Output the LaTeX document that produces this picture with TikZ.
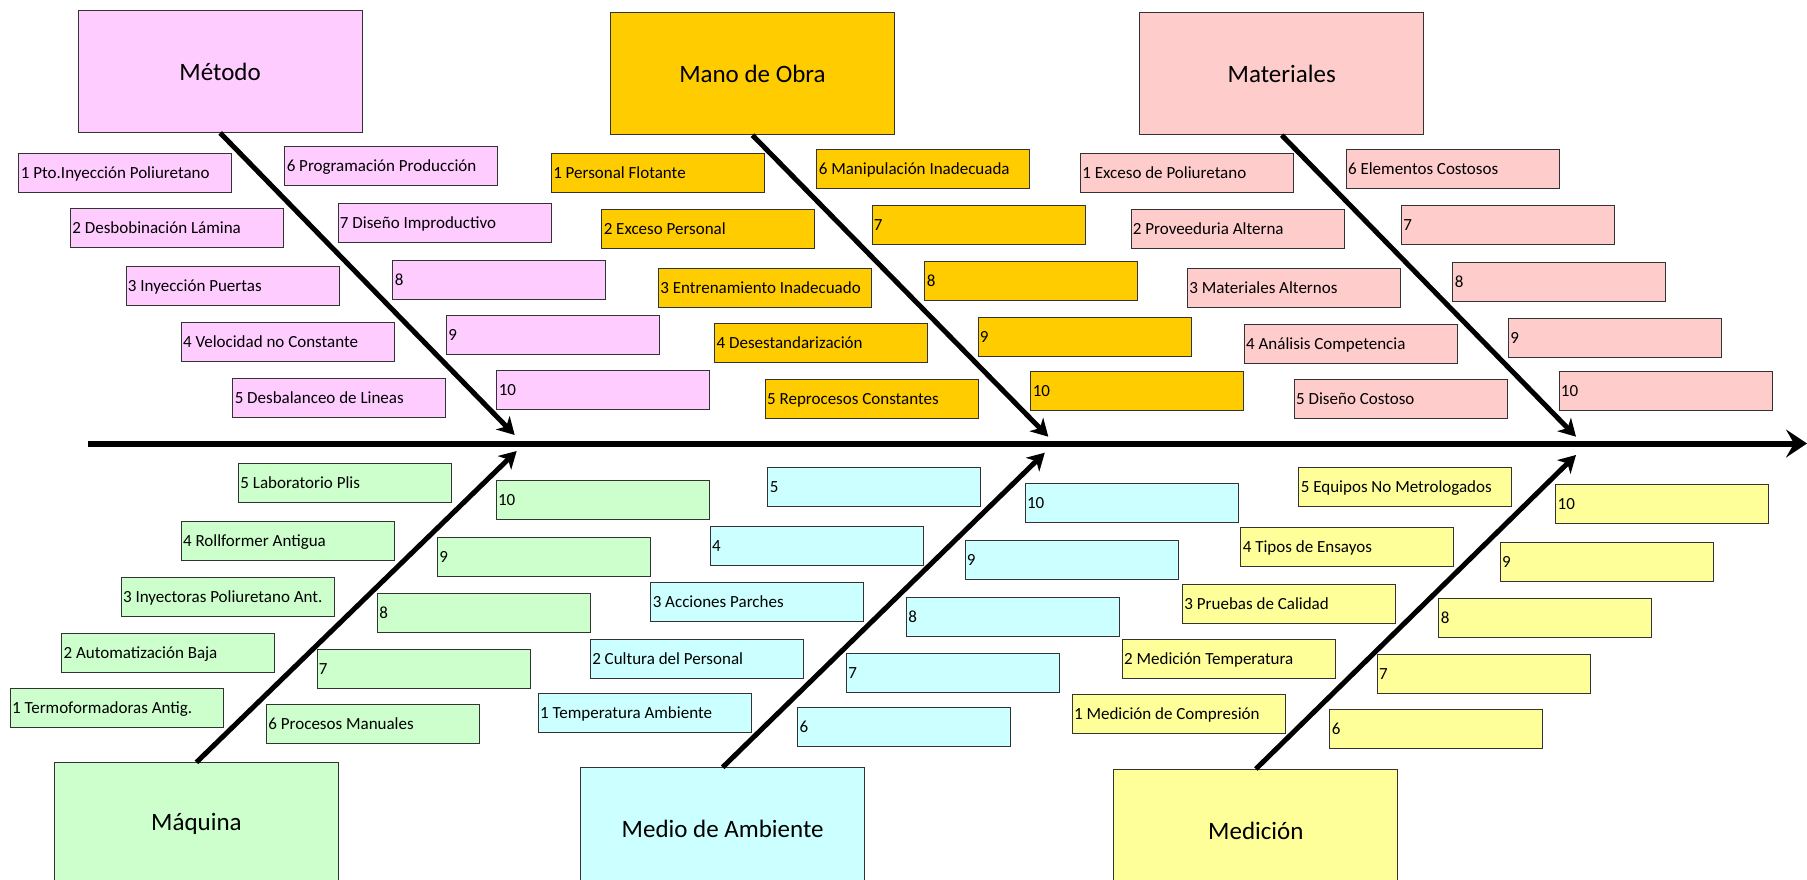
\documentclass[tikz,border=0pt]{standalone}
\usepackage{fontspec}
\setmainfont{Carlito}
\usetikzlibrary{arrows.meta}

\definecolor{metodoC}{HTML}{FFCCFF}
\definecolor{obraC}{HTML}{FFCC00}
\definecolor{materialC}{HTML}{FFCCCC}
\definecolor{maquinaC}{HTML}{CCFFCC}
\definecolor{medioC}{HTML}{CCFFFF}
\definecolor{medicionC}{HTML}{FFFF99}

\tikzset{
  cause/.style={draw=black!80, line width=0.9pt, anchor=north west,
    minimum height=39pt, minimum width=213pt, inner xsep=2pt, inner ysep=0pt,
    font=\fontsize{17}{20}\selectfont,
    text height=13pt, text depth=2pt},
  category/.style={draw=black!80, line width=0.9pt, anchor=north west,
    minimum width=284pt, minimum height=122pt,
    font=\fontsize{25}{30}\selectfont},
  bone/.style={line width=5pt, -{Stealth[length=17pt,width=19pt,inset=5pt]}},
  spine/.style={line width=6pt, -{Stealth[length=21pt,width=28pt,inset=8pt]}},
}

% \cb{name}{colour}{left}{top}{text}: a cause box, text flush left
\newcommand\cb[5]{\node[cause, fill=#2] (#1) at (#3,#4) {\makebox[209pt][l]{#5}};}

\begin{document}
\begin{tikzpicture}[x=1pt, y=-1pt]
\useasboundingbox (0,0) rectangle (1807,880);

% ---------- main spine ----------
\coordinate (tail) at (88,443.5);
\coordinate (effect) at (1807,443.5);
\draw[spine] (tail) -- (effect);

% ---------- category heads ----------
\node[category, fill=metodoC]   (metodo)   at (77.7,10)    {Método};
\node[category, fill=obraC]     (obra)     at (610,12.3)   {Mano de Obra};
\node[category, fill=materialC] (material) at (1139.3,12.3){Materiales};
\node[category, fill=maquinaC]  (maquina)  at (54,762.3)   {Máquina};
\node[category, fill=medioC]    (medio)    at (580.2,767.3){Medio de Ambiente};
\node[category, fill=medicionC] (medicion) at (1113.4,769) {Medición};

% ---------- Método ----------
\cb{m1}{metodoC}{18.4}{152.7}{1 Pto.Inyección Poliuretano}
\cb{m2}{metodoC}{70}{208.3}{2 Desbobinación Lámina}
\cb{m3}{metodoC}{125.5}{266}{3 Inyección Puertas}
\cb{m4}{metodoC}{180.6}{322.3}{4 Velocidad no Constante}
\cb{m5}{metodoC}{232.3}{377.7}{5 Desbalanceo de Lineas}
\cb{m6}{metodoC}{284.3}{145.7}{6 Programación Producción}
\cb{m7}{metodoC}{337.5}{203}{7 Diseño Improductivo}
\cb{m8}{metodoC}{392.3}{260.3}{8}
\cb{m9}{metodoC}{445.8}{315.3}{9}
\cb{m10}{metodoC}{496.4}{370}{10}

% ---------- Mano de Obra ----------
\cb{o1}{obraC}{550.8}{152.7}{1 Personal Flotante}
\cb{o2}{obraC}{601.3}{209}{2 Exceso Personal}
\cb{o3}{obraC}{657.9}{267.7}{3 Entrenamiento Inadecuado}
\cb{o4}{obraC}{714.2}{323.3}{4 Desestandarización}
\cb{o5}{obraC}{764.7}{378.7}{5 Reprocesos Constantes}
\cb{o6}{obraC}{816.4}{148.7}{6 Manipulación Inadecuada}
\cb{o7}{obraC}{871.5}{205}{7}
\cb{o8}{obraC}{924.3}{261.3}{8}
\cb{o9}{obraC}{977.5}{316.7}{9}
\cb{o10}{obraC}{1030.3}{371}{10}

% ---------- Materiales ----------
\cb{a1}{materialC}{1080}{152.7}{1 Exceso de Poliuretano}
\cb{a2}{materialC}{1130.5}{209}{2 Proveeduria Alterna}
\cb{a3}{materialC}{1187}{267.7}{3 Materiales Alternos}
\cb{a4}{materialC}{1243.7}{324.3}{4 Análisis Competencia}
\cb{a5}{materialC}{1293.7}{379.3}{5 Diseño Costoso}
\cb{a6}{materialC}{1345.6}{148.7}{6 Elementos Costosos}
\cb{a7}{materialC}{1400.8}{205}{7}
\cb{a8}{materialC}{1452.3}{262.3}{8}
\cb{a9}{materialC}{1508}{318.3}{9}
\cb{a10}{materialC}{1558.5}{371}{10}

% ---------- Máquina ----------
\cb{q1}{maquinaC}{9.6}{687.7}{1 Termoformadoras Antig.}
\cb{q2}{maquinaC}{61.2}{633.3}{2 Automatización Baja}
\cb{q3}{maquinaC}{120.6}{577}{3 Inyectoras Poliuretano Ant.}
\cb{q4}{maquinaC}{180.6}{520.7}{4 Rollformer Antigua}
\cb{q5}{maquinaC}{238}{463.3}{5 Laboratorio Plis}
\cb{q6}{maquinaC}{266}{704.3}{6 Procesos Manuales}
\cb{q7}{maquinaC}{316.5}{649.3}{7}
\cb{q8}{maquinaC}{377}{593.3}{8}
\cb{q9}{maquinaC}{437}{536.7}{9}
\cb{q10}{maquinaC}{495.6}{480}{10}

% ---------- Medio de Ambiente ----------
\cb{e1}{medioC}{537.7}{692.7}{1 Temperatura Ambiente}
\cb{e2}{medioC}{589.8}{638.7}{2 Cultura del Personal}
\cb{e3}{medioC}{650.3}{582.3}{3 Acciones Parches}
\cb{e4}{medioC}{709.6}{525.7}{4}
\cb{e5}{medioC}{767.4}{466.7}{5}
\cb{e6}{medioC}{797.2}{707}{6}
\cb{e7}{medioC}{845.8}{653.3}{7}
\cb{e8}{medioC}{905.9}{596.7}{8}
\cb{e9}{medioC}{964.5}{540.3}{9}
\cb{e10}{medioC}{1024.6}{483.3}{10}

% ---------- Medición ----------
\cb{d1}{medicionC}{1071.6}{694}{1 Medición de Compresión}
\cb{d2}{medicionC}{1121.7}{639.3}{2 Medición Temperatura}
\cb{d3}{medicionC}{1182}{584}{3 Pruebas de Calidad}
\cb{d4}{medicionC}{1240.4}{526.7}{4 Tipos de Ensayos}
\cb{d5}{medicionC}{1298.4}{467.3}{5 Equipos No Metrologados}
\cb{d6}{medicionC}{1329.4}{709.3}{6}
\cb{d7}{medicionC}{1376.7}{654.3}{7}
\cb{d8}{medicionC}{1438.4}{598.3}{8}
\cb{d9}{medicionC}{1499.6}{542.3}{9}
\cb{d10}{medicionC}{1555.2}{484.3}{10}

% ---------- bones ----------
\coordinate (tipMetodo)   at (514.7,435);
\coordinate (tipObra)     at (1048.3,436.7);
\coordinate (tipMaterial) at (1576,436.7);
\coordinate (tipMaquina)  at (516.7,451);
\coordinate (tipMedio)    at (1044.8,452.7);
\coordinate (tipMedicion) at (1576,455);

\draw[bone] (metodo.south)   -- (tipMetodo);
\draw[bone] (obra.south)     -- (tipObra);
\draw[bone] (material.south) -- (tipMaterial);
\draw[bone] (maquina.north)  -- (tipMaquina);
\draw[bone] (medio.north)    -- (tipMedio);
\draw[bone] (medicion.north) -- (tipMedicion);
\end{tikzpicture}
\end{document}
